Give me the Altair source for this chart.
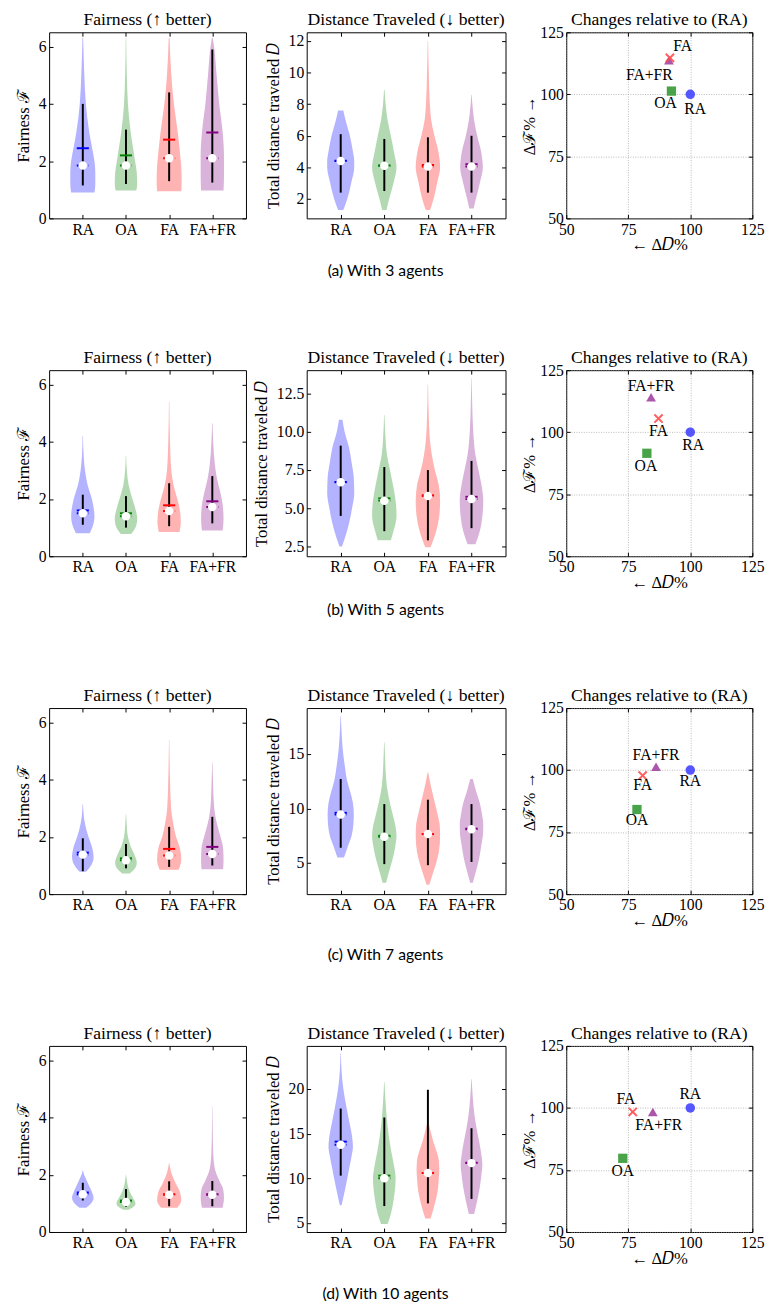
import altair as alt
import pandas as pd

SERIF = "Liberation Serif"
SANS = "Lato"

METHODS = ["RA", "OA", "FA", "FA+FR"]
FILL_COLORS = ["#b3b3ff", "#b3d9b3", "#ffb3b3", "#d9b3d9"]
LINE_COLORS = ["#0000ff", "#008000", "#ff0000", "#800080"]
MARK_COLORS = ["#4d4dff", "#3f9f3f", "#ff4d4d", "#a64da6"]
DRAW_ORDER = ["RA", "OA", "FA+FR", "FA"]

CAPTIONS = ["(a) With 3 agents", "(b) With 5 agents", "(c) With 7 agents", "(d) With 10 agents"]
CAPTION_PADS = [26, 27, 35, 36]
FAIR_TITLE = "Fairness (\u2191 better)"
DIST_TITLE = "Distance Traveled (\u2193 better)"
SCAT_TITLE = "Changes relative to (RA)"
FAIR_YTITLE = "Fairness \u2131"
DIST_YTITLE = "Total distance traveled \U0001D437"
SCAT_XTITLE = "\u2190 \u0394\U0001D437%"
SCAT_YTITLE = "\u0394\u2131% \u2192"

FAIR_DOMAIN = [0, 6.5]
FAIR_TICKS = [0, 2, 4, 6]
DIST_DOMAINS = [[0.77, 12.55], [1.86, 14.04], [2.15, 19.2], [4.0, 24.8]]
DIST_TICKS = [[2, 4, 6, 8, 10, 12], [2.5, 5, 7.5, 10, 12.5], [5, 10, 15], [5, 10, 15, 20]]
DIST_FORMATS = ["d", ".1f", "d", "d"]
SCAT_DOMAIN = [50, 125]
SCAT_TICKS = [50, 75, 100, 125]

# violin profiles: (y values, half widths in category units)
FAIR_3 = {
    "RA": ([0.9, 1.2, 1.6, 2.0, 2.5, 3.0, 4.0, 5.0, 6.3], [0.27, 0.29, 0.29, 0.27, 0.21, 0.15, 0.07, 0.035, 0.008]),
    "OA": ([0.97, 1.2, 1.6, 2.0, 2.5, 3.0, 4.0, 5.0, 6.3], [0.24, 0.26, 0.25, 0.21, 0.16, 0.11, 0.045, 0.02, 0.005]),
    "FA": ([0.95, 1.3, 1.8, 2.3, 3.0, 4.0, 5.0, 6.3], [0.28, 0.29, 0.28, 0.25, 0.2, 0.11, 0.05, 0.01]),
    "FA+FR": ([0.97, 1.5, 2.2, 3.0, 4.0, 5.0, 6.0, 6.3], [0.26, 0.27, 0.27, 0.24, 0.16, 0.1, 0.04, 0.01]),
}
DIST_3 = {
    "RA": ([1.3, 2, 3, 4, 4.4, 5, 6, 7, 7.6], [0.06, 0.15, 0.24, 0.31, 0.31, 0.28, 0.21, 0.11, 0.06]),
    "OA": ([1.3, 2, 3, 4, 5, 6, 7, 8, 8.9], [0.05, 0.11, 0.21, 0.28, 0.22, 0.15, 0.075, 0.03, 0.007]),
    "FA": ([1.3, 2, 3, 4, 5, 6, 7, 8, 10, 12], [0.05, 0.13, 0.21, 0.28, 0.24, 0.15, 0.075, 0.045, 0.02, 0.005]),
    "FA+FR": ([1.4, 2, 3, 4, 5, 6, 7, 8, 8.6], [0.05, 0.1, 0.19, 0.26, 0.22, 0.13, 0.06, 0.02, 0.005]),
}
FAIR_5 = {
    "RA": ([0.8, 1.0, 1.4, 2.0, 2.5, 3.0, 3.5, 4.2], [0.16, 0.22, 0.27, 0.21, 0.11, 0.05, 0.02, 0.005]),
    "OA": ([0.78, 1.0, 1.3, 1.7, 2.0, 2.5, 3.0, 3.5], [0.12, 0.22, 0.26, 0.21, 0.15, 0.06, 0.02, 0.005]),
    "FA": ([0.85, 1.2, 1.6, 2.0, 2.5, 3.0, 4.0, 5.4], [0.24, 0.27, 0.25, 0.19, 0.1, 0.05, 0.02, 0.005]),
    "FA+FR": ([0.9, 1.3, 1.8, 2.2, 2.7, 3.2, 4.0, 4.65], [0.24, 0.26, 0.24, 0.19, 0.11, 0.06, 0.02, 0.005]),
}
DIST_5 = {
    "RA": ([2.5, 3, 4, 5, 6, 7, 8, 9, 10, 10.8], [0.03, 0.09, 0.19, 0.26, 0.31, 0.3, 0.25, 0.19, 0.09, 0.04]),
    "OA": ([2.9, 3.5, 4.5, 5.5, 6.5, 7.5, 8.5, 9.5, 11.1], [0.15, 0.21, 0.28, 0.26, 0.2, 0.13, 0.06, 0.03, 0.005]),
    "FA": ([2.45, 3.5, 4.5, 5.5, 6.5, 7.5, 8.5, 9.5, 11, 13.1], [0.06, 0.19, 0.26, 0.28, 0.25, 0.16, 0.09, 0.045, 0.02, 0.005]),
    "FA+FR": ([2.65, 3.5, 4.5, 5.5, 6.5, 7.5, 8.5, 10, 12, 13.5], [0.09, 0.19, 0.25, 0.27, 0.23, 0.16, 0.09, 0.04, 0.015, 0.004]),
}
FAIR_7 = {
    "RA": ([0.78, 1.0, 1.3, 1.6, 2.0, 2.5, 3.15], [0.075, 0.19, 0.25, 0.22, 0.13, 0.045, 0.005]),
    "OA": ([0.72, 0.9, 1.1, 1.4, 1.7, 2.0, 2.5, 2.8], [0.09, 0.21, 0.25, 0.19, 0.1, 0.045, 0.015, 0.004]),
    "FA": ([0.85, 1.2, 1.6, 2.0, 2.5, 3.0, 4.0, 5.4], [0.22, 0.28, 0.25, 0.16, 0.09, 0.045, 0.02, 0.004]),
    "FA+FR": ([0.87, 1.2, 1.6, 2.0, 2.5, 3.0, 4.0, 4.6], [0.25, 0.26, 0.25, 0.19, 0.1, 0.045, 0.015, 0.004]),
}
DIST_7 = {
    "RA": ([5.5, 6.5, 7.5, 8.5, 9.5, 10.5, 11.5, 12.5, 14, 15.5, 17, 18.5], [0.075, 0.16, 0.25, 0.29, 0.3, 0.28, 0.22, 0.15, 0.09, 0.045, 0.02, 0.004]),
    "OA": ([3.2, 4.5, 5.5, 6.5, 7.5, 8.5, 9.5, 10.5, 12, 13.5, 15, 16.1], [0.04, 0.13, 0.2, 0.25, 0.28, 0.25, 0.19, 0.13, 0.06, 0.03, 0.015, 0.004]),
    "FA": ([3.0, 4, 5, 6, 7.5, 8.5, 9.5, 10.5, 11.5, 12.5, 13.3], [0.03, 0.11, 0.19, 0.25, 0.28, 0.27, 0.22, 0.16, 0.1, 0.045, 0.008]),
    "FA+FR": ([3.2, 4.5, 5.5, 6.5, 7.5, 8.5, 9.5, 10.5, 11.5, 12.7], [0.03, 0.12, 0.18, 0.22, 0.26, 0.27, 0.24, 0.19, 0.11, 0.03]),
}
FAIR_10 = {
    "RA": ([0.85, 1.0, 1.2, 1.4, 1.6, 1.8, 2.0, 2.15], [0.075, 0.19, 0.25, 0.21, 0.15, 0.09, 0.03, 0.005]),
    "OA": ([0.78, 0.9, 1.0, 1.2, 1.4, 1.6, 1.8, 2.0], [0.06, 0.19, 0.22, 0.16, 0.09, 0.045, 0.02, 0.004]),
    "FA": ([0.85, 1.1, 1.4, 1.7, 1.9, 2.1, 2.4], [0.19, 0.28, 0.25, 0.15, 0.09, 0.045, 0.005]),
    "FA+FR": ([0.85, 1.2, 1.5, 1.8, 2.2, 2.8, 3.5, 4.4], [0.24, 0.27, 0.25, 0.16, 0.06, 0.02, 0.01, 0.003]),
}
DIST_10 = {
    "RA": ([7, 9, 11, 12.5, 13.5, 15, 16.5, 18, 20, 22, 24], [0.02, 0.11, 0.19, 0.25, 0.28, 0.25, 0.19, 0.13, 0.06, 0.02, 0.004]),
    "OA": ([4.9, 6, 7.5, 9, 10, 11.5, 13, 14.5, 16.5, 18.5, 20.8], [0.075, 0.15, 0.21, 0.25, 0.26, 0.22, 0.16, 0.11, 0.06, 0.03, 0.004]),
    "FA": ([5.5, 7, 8.5, 10, 11, 12, 13, 14, 15, 16.2], [0.06, 0.15, 0.22, 0.25, 0.26, 0.25, 0.2, 0.13, 0.075, 0.015]),
    "FA+FR": ([6, 7.5, 9, 10.5, 11.5, 12.5, 14, 15.5, 17, 19, 21.1], [0.06, 0.13, 0.19, 0.23, 0.25, 0.23, 0.18, 0.12, 0.07, 0.03, 0.004]),
}

# stats: (whisker low, whisker high, mean, median)
FAIR_STATS_3 = {"RA": (1.15, 4.0, 2.45, 1.85), "OA": (1.2, 3.1, 2.2, 1.85), "FA": (1.3, 4.4, 2.75, 2.1), "FA+FR": (1.25, 5.9, 3.0, 2.1)}
DIST_STATS_3 = {"RA": (2.4, 6.1, 4.42, 4.4), "OA": (2.5, 5.8, 4.12, 4.1), "FA": (2.4, 5.9, 4.15, 4.05), "FA+FR": (2.4, 6.0, 4.2, 4.05)}
FAIR_STATS_5 = {"RA": (1.1, 2.15, 1.6, 1.5), "OA": (1.0, 2.1, 1.5, 1.4), "FA": (1.05, 2.55, 1.78, 1.58), "FA+FR": (1.15, 2.8, 1.92, 1.72)}
DIST_STATS_5 = {"RA": (4.5, 9.1, 6.72, 6.7), "OA": (3.5, 7.7, 5.65, 5.5), "FA": (2.9, 7.5, 5.85, 5.8), "FA+FR": (3.7, 8.1, 5.75, 5.6)}
FAIR_STATS_7 = {"RA": (0.8, 1.95, 1.45, 1.38), "OA": (0.9, 1.75, 1.25, 1.18), "FA": (0.95, 2.35, 1.58, 1.35), "FA+FR": (1.0, 2.7, 1.65, 1.4)}
DIST_STATS_7 = {"RA": (6.4, 12.7, 9.6, 9.45), "OA": (4.9, 10.4, 7.5, 7.4), "FA": (4.8, 10.8, 7.65, 7.65), "FA+FR": (5.1, 10.4, 8.15, 8.1)}
FAIR_STATS_10 = {"RA": (1.1, 1.72, 1.38, 1.32), "OA": (0.88, 1.5, 1.1, 1.05), "FA": (0.9, 1.77, 1.32, 1.3), "FA+FR": (0.9, 1.78, 1.32, 1.3)}
DIST_STATS_10 = {"RA": (10.3, 17.8, 14.1, 13.75), "OA": (6.9, 16.8, 10.3, 10.0), "FA": (7.2, 19.9, 10.6, 10.6), "FA+FR": (7.7, 15.6, 11.75, 11.7)}

# relative changes (x: distance %, y: fairness %)
SCATTER_3 = {"RA": (100, 100), "OA": (92.4, 101.3), "FA": (91.8, 114.7), "FA+FR": (91.4, 113.7)}
SCATTER_5 = {"RA": (100, 100), "OA": (82.5, 91.5), "FA": (87.2, 105.5), "FA+FR": (84.2, 114.1)}
SCATTER_7 = {"RA": (100, 100), "OA": (78.5, 84.1), "FA": (80.8, 97.8), "FA+FR": (86.2, 101.3)}
SCATTER_10 = {"RA": (100, 100), "OA": (72.8, 79.7), "FA": (76.8, 98.4), "FA+FR": (84.9, 98.4)}

# label offsets in pixels (style)
LABEL_OFFSETS = [
    {"RA": (5, 15), "OA": (-6, 12), "FA": (13, -12), "FA+FR": (-20, 15)},
    {"RA": (3, 13), "OA": (-1, 13), "FA": (0, 13), "FA+FR": (0, -11)},
    {"RA": (0, 11), "OA": (0, 11), "FA": (0, 10), "FA+FR": (0, -12)},
    {"RA": (0, -14), "OA": (0, 13), "FA": (-7, -13), "FA+FR": (6, 13)},
]

FAIRS = [FAIR_3, FAIR_5, FAIR_7, FAIR_10]
DISTS = [DIST_3, DIST_5, DIST_7, DIST_10]
FAIR_STATS = [FAIR_STATS_3, FAIR_STATS_5, FAIR_STATS_7, FAIR_STATS_10]
DIST_STATS = [DIST_STATS_3, DIST_STATS_5, DIST_STATS_7, DIST_STATS_10]
SCATTERS = [SCATTER_3, SCATTER_5, SCATTER_7, SCATTER_10]

FW, DW, SW, H = 201, 203, 190, 190
TICK_FS = 16
TITLE_FS = 18
AXT_FS = 17
CAP_FS = 16
HALF_BAR = 0.14

COMMON_AX = dict(tickSize=4, offset=-4, domain=False, tickColor="black", tickWidth=1,
                 labelFont=SERIF, labelFontSize=TICK_FS, labelColor="black", labelPadding=3,
                 titleFont=SERIF, titleFontSize=AXT_FS, titleColor="black", titleFontWeight="normal",
                 labelFlush=False, labelOverlap=False)


def hidden_axis(orient, values):
    return alt.Axis(orient=orient, values=values, labels=False, title=None, tickSize=4, offset=-4,
                    domain=False, grid=False, tickColor="black", tickWidth=1)


def panel_title(text, offset):
    return alt.TitleParams(text, font=SERIF, fontSize=TITLE_FS, fontWeight="normal", color="black",
                           anchor="middle", offset=offset)


def violin_panel(profiles, stats, domain, ticks, fmt, ytitle, title, width, caption=None, cap_pad=26):
    prow, srow = [], []
    for i, m in enumerate(METHODS):
        ys, ws = profiles[m]
        for y, w in zip(ys, ws):
            prow.append({"method": m, "y": y, "left": i + 1 - w, "right": i + 1 + w, "fill": FILL_COLORS[i]})
        lo, hi, mean, med = stats[m]
        srow.append({"method": m, "pos": i + 1, "l": i + 1 - HALF_BAR, "r": i + 1 + HALF_BAR,
                     "lo": lo, "hi": hi, "mean": mean, "median": med, "col": LINE_COLORS[i]})
    pdf, sdf = pd.DataFrame(prow), pd.DataFrame(srow)
    xs = alt.Scale(domain=[0.22, 4.78], nice=False, zero=False)
    ysc = alt.Scale(domain=domain, nice=False, zero=False)
    pos_vals = list(range(1, len(METHODS) + 1))
    label_expr = "[" + ",".join("'%s'" % m for m in METHODS) + "][datum.value - 1]"
    if caption:
        xaxis = alt.Axis(values=pos_vals, labelExpr=label_expr, grid=False, title=caption,
                         **{**COMMON_AX, "titleFont": SANS, "titleFontSize": CAP_FS},
                         titlePadding=cap_pad, titleX=80)
    else:
        xaxis = alt.Axis(values=pos_vals, labelExpr=label_expr, grid=False, title=None, **COMMON_AX)
    yaxis = alt.Axis(values=ticks, format=fmt, grid=False, title=ytitle, titlePadding=6, **COMMON_AX)

    area = alt.Chart(pdf).mark_area(orient="horizontal", interpolate="monotone", opacity=1).encode(
        y=alt.Y("y:Q", scale=ysc, axis=yaxis),
        x=alt.X("left:Q", scale=xs, axis=xaxis, stack=None),
        x2="right:Q",
        fill=alt.Fill("fill:N", scale=None),
        detail="method:N",
    )
    base = alt.Chart(sdf)
    whisk = base.mark_rule(color="black", strokeWidth=2).encode(
        x=alt.X("pos:Q", scale=xs, axis=None), y=alt.Y("lo:Q", scale=ysc, axis=None), y2="hi:Q")
    mean = base.mark_rule(strokeWidth=2).encode(
        x=alt.X("l:Q", scale=xs, axis=None), x2="r:Q", y=alt.Y("mean:Q", scale=ysc, axis=None),
        color=alt.Color("col:N", scale=None))
    med = base.mark_rule(strokeWidth=2, strokeDash=[2, 2]).encode(
        x=alt.X("l:Q", scale=xs, axis=None), x2="r:Q", y=alt.Y("median:Q", scale=ysc, axis=None),
        color=alt.Color("col:N", scale=None))
    dot = base.mark_point(filled=True, color="white", size=75, opacity=1).encode(
        x=alt.X("pos:Q", scale=xs, axis=None), y=alt.Y("median:Q", scale=ysc, axis=None))
    frame = base.mark_point(opacity=0).encode(
        x=alt.X("pos:Q", scale=xs, axis=hidden_axis("top", pos_vals)),
        y=alt.Y("median:Q", scale=ysc, axis=hidden_axis("right", ticks)))
    return alt.layer(area, whisk, mean, med, dot, frame).resolve_axis(x="independent", y="independent").properties(
        width=width, height=H, title=panel_title(title, 3))


SHAPES = {"RA": "circle", "OA": "square", "FA": "M-1,-1L1,1M-1,1L1,-1", "FA+FR": "triangle-up"}
SIZES = {"RA": 95, "OA": 90, "FA": 70, "FA+FR": 100}


def scatter_panel(points, offsets):
    xs = alt.Scale(domain=SCAT_DOMAIN, nice=False, zero=False)
    ysc = alt.Scale(domain=SCAT_DOMAIN, nice=False, zero=False)
    df = pd.DataFrame([{"method": m, "x": points[m][0], "y": points[m][1]} for m in METHODS])
    grid_ax = dict(grid=True, gridDash=[1, 1.5], gridColor="#9a9a9a", gridWidth=0.7)
    xaxis = alt.Axis(values=SCAT_TICKS, title=SCAT_XTITLE, titlePadding=0, **grid_ax, **COMMON_AX)
    yaxis = alt.Axis(values=SCAT_TICKS, title=SCAT_YTITLE, titlePadding=1, **grid_ax, **COMMON_AX)
    layers = [alt.Chart(df).mark_point(opacity=0).encode(
        x=alt.X("x:Q", scale=xs, axis=xaxis), y=alt.Y("y:Q", scale=ysc, axis=yaxis))]
    for m in DRAW_ORDER:
        i = METHODS.index(m)
        sub = df[df.method == m]
        if m == "FA":
            mk = alt.Chart(sub).mark_point(shape=SHAPES[m], filled=False, size=SIZES[m], strokeWidth=2,
                                           color=MARK_COLORS[i], opacity=0.9)
        else:
            mk = alt.Chart(sub).mark_point(shape=SHAPES[m], filled=True, size=SIZES[m],
                                           color=MARK_COLORS[i], opacity=0.95)
        layers.append(mk.encode(x=alt.X("x:Q", scale=xs, axis=None), y=alt.Y("y:Q", scale=ysc, axis=None)))
    for m in METHODS:
        dx, dy = offsets[m]
        sub = df[df.method == m]
        layers.append(alt.Chart(sub).mark_text(font=SERIF, fontSize=TICK_FS, color="black", dx=dx, dy=dy,
                                               baseline="middle", align="center").encode(
            x=alt.X("x:Q", scale=xs, axis=None), y=alt.Y("y:Q", scale=ysc, axis=None), text="method:N"))
    layers.append(alt.Chart(df).mark_point(opacity=0).encode(
        x=alt.X("x:Q", scale=xs, axis=hidden_axis("top", SCAT_TICKS)),
        y=alt.Y("y:Q", scale=ysc, axis=hidden_axis("right", SCAT_TICKS))))
    return alt.layer(*layers).resolve_axis(x="independent", y="independent").properties(
        width=SW, height=H, title=panel_title(SCAT_TITLE, -5))


panels = []
for r in range(4):
    panels.append(violin_panel(FAIRS[r], FAIR_STATS[r], FAIR_DOMAIN, FAIR_TICKS, "d", FAIR_YTITLE, FAIR_TITLE, FW))
    panels.append(violin_panel(DISTS[r], DIST_STATS[r], DIST_DOMAINS[r], DIST_TICKS[r], DIST_FORMATS[r],
                               DIST_YTITLE, DIST_TITLE, DW, caption=CAPTIONS[r], cap_pad=CAPTION_PADS[r]))
    panels.append(scatter_panel(SCATTERS[r], LABEL_OFFSETS[r]))

chart = alt.concat(*panels, columns=3, spacing={"row": 155, "column": 62}, bounds="flush").configure_view(
    stroke="black", strokeWidth=1).properties(
    background="white", padding={"left": 6, "top": -11, "right": 2, "bottom": 2})

chart.save("out.html", embed_options={"renderer": "svg", "actions": False})
